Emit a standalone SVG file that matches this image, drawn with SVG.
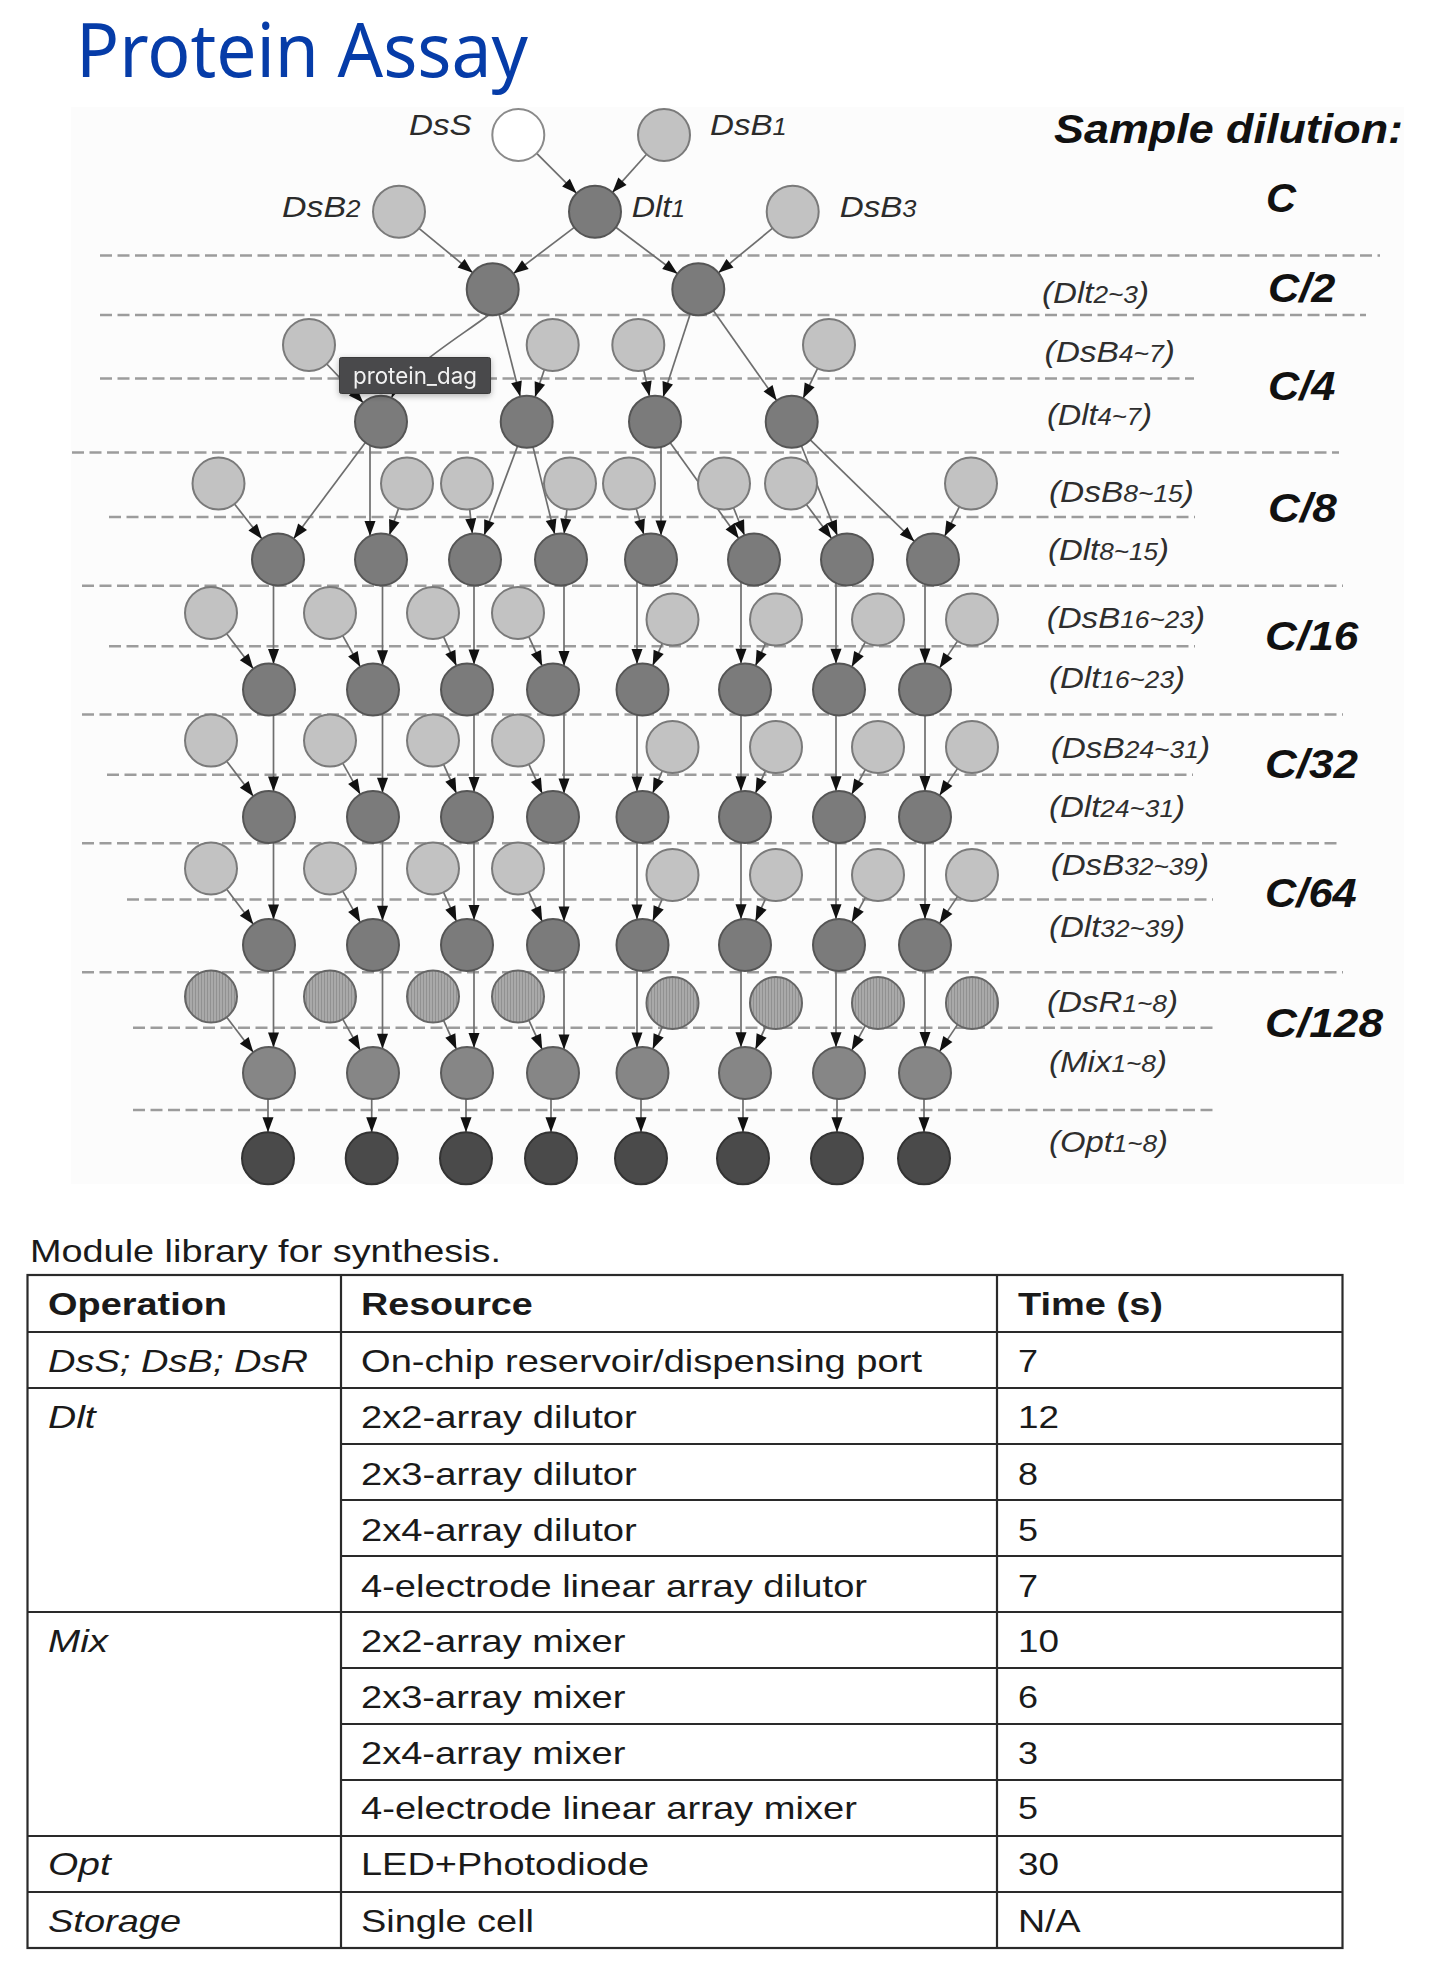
<svg xmlns="http://www.w3.org/2000/svg" width="1430" height="1966" viewBox="0 0 1430 1966">
<style>
.dash{stroke:#9c9c9c;stroke-width:2.6;stroke-dasharray:12 5.5;fill:none}
.e{stroke:#6e6e6e;stroke-width:1.7;fill:none;marker-end:url(#ah)}
.nw{fill:#ffffff;stroke:#8a8a8a;stroke-width:2}
.nl{fill:#c2c2c2;stroke:#7a7a7a;stroke-width:2}
.nd{fill:#7b7b7b;stroke:#555555;stroke-width:2}
.nm{fill:#868686;stroke:#5a5a5a;stroke-width:2}
.nr{fill:url(#hatch);stroke:#666666;stroke-width:2}
.no{fill:#4a4a4a;stroke:#333333;stroke-width:2}
.lbl{font-family:"Liberation Sans",Arial,sans-serif;font-style:italic;fill:#2b2b2b;font-size:30px}
.rl{font-family:"Liberation Sans",Arial,sans-serif;font-style:italic;fill:#2e2e2e;font-size:29px}
.sub{font-size:23px}
.cl{font-family:"Liberation Sans",Arial,sans-serif;font-style:italic;font-weight:bold;fill:#111111;font-size:41px}
.tb{font-family:"Liberation Sans",Arial,sans-serif;font-size:32px;fill:#1a1a1a}
.th{font-weight:bold}
.ti{font-style:italic}
.tl{stroke:#2a2a2a;stroke-width:2.2}
</style>
<defs>
<marker id="ah" markerUnits="userSpaceOnUse" viewBox="-16 -6 17 12" refX="0" refY="0" markerWidth="17" markerHeight="12" orient="auto">
<path d="M0,0 L-15,-5.5 L-15,5.5 Z" fill="#111111"/>
</marker>
<pattern id="hatch" patternUnits="userSpaceOnUse" width="3" height="3">
<rect width="3" height="3" fill="#a9a9a9"/>
<rect width="1" height="3" fill="#919191"/>
</pattern>
<filter id="shadow" x="-20%" y="-40%" width="140%" height="190%">
<feDropShadow dx="0" dy="2" stdDeviation="3" flood-color="#000" flood-opacity="0.3"/>
</filter>
</defs>

<rect width="1430" height="1966" fill="#ffffff"/>
<text x="76" y="77" font-family="'Noto Sans','Open Sans',sans-serif" font-size="74" fill="#063ca8" textLength="452" lengthAdjust="spacingAndGlyphs">Protein Assay</text>

<rect x="71" y="107" width="1333" height="1077" fill="#fcfcfc"/>

<g id="dashed-lines">
<line class="dash" x1="100" y1="255.5" x2="1380" y2="255.5"/>
<line class="dash" x1="100" y1="315" x2="1366" y2="315"/>
<line class="dash" x1="100" y1="378.5" x2="1194" y2="378.5"/>
<line class="dash" x1="72" y1="452.5" x2="1339" y2="452.5"/>
<line class="dash" x1="109" y1="517" x2="1195" y2="517"/>
<line class="dash" x1="82" y1="585.8" x2="1343" y2="585.8"/>
<line class="dash" x1="109" y1="646.3" x2="1195" y2="646.3"/>
<line class="dash" x1="82" y1="714.5" x2="1343" y2="714.5"/>
<line class="dash" x1="107" y1="774.8" x2="1193" y2="774.8"/>
<line class="dash" x1="82" y1="843.3" x2="1342" y2="843.3"/>
<line class="dash" x1="127" y1="899.5" x2="1213" y2="899.5"/>
<line class="dash" x1="82" y1="972.3" x2="1343" y2="972.3"/>
<line class="dash" x1="133" y1="1027.7" x2="1218" y2="1027.7"/>
<line class="dash" x1="133" y1="1110" x2="1218" y2="1110"/>
</g>

<g id="connectors">
<path class="e" d="M536.7,153.4 L576.6,193.3"/>
<path class="e" d="M646.6,154.3 L612.4,192.4"/>
<path class="e" d="M419,228.3 L472.7,272.7"/>
<path class="e" d="M574.3,227.4 L513.4,273.6"/>
<path class="e" d="M615.8,227.3 L677.5,273.7"/>
<path class="e" d="M772.6,228.2 L718.4,272.8"/>
<path class="e" d="M488,315.5 C452,342 405,370 391.5,397.8"/>
<path class="e" d="M326.8,364 L363.2,402.7"/>
<path class="e" d="M499.2,314.5 L520.2,396.5"/>
<path class="e" d="M544.4,369.6 L535,397.1"/>
<path class="e" d="M643.8,370.4 L649.5,396.3"/>
<path class="e" d="M690.2,314 L663.1,397"/>
<path class="e" d="M713.3,310.5 L776.7,400.5"/>
<path class="e" d="M817.6,368.4 L803.1,398.3"/>

<path class="e" d="M365.4,442.5 L293.6,538.7"/>
<path class="e" d="M370,445.3 L370,535.9"/>
<path class="e" d="M234.5,504 L262,539"/>
<path class="e" d="M398.6,508.1 L389.4,534.9"/>
<path class="e" d="M517.6,446 L484.1,535.2"/>
<path class="e" d="M533,446.9 L554.7,534.3"/>
<path class="e" d="M469.7,509.4 L472.3,533.6"/>
<path class="e" d="M566.9,509.3 L564.1,533.7"/>
<path class="e" d="M661,447 L661,535.5"/>
<path class="e" d="M670.2,442.8 L738.8,538.4"/>
<path class="e" d="M636.2,508.5 L643.8,534.5"/>
<path class="e" d="M733.5,507.7 L744.5,535.3"/>
<path class="e" d="M801.4,445.8 L837.3,535.4"/>
<path class="e" d="M810.3,439.8 L914.4,541.4"/>
<path class="e" d="M806.4,504.4 L831.6,538.6"/>
<path class="e" d="M959.4,506.7 L944.6,536.3"/>

<path class="e" d="M273.5,585.1 L273.5,663.9"/>
<path class="e" d="M382.5,585.5 L382.5,665.3"/>
<path class="e" d="M474,585.5 L474,664.5"/>
<path class="e" d="M564,585.3 L564,665.9"/>
<path class="e" d="M637,581.4 L637,664.1"/>
<path class="e" d="M741,582 L741,663.8"/>
<path class="e" d="M836,583.1 L836,663.7"/>
<path class="e" d="M925,584.2 L925,663.5"/>
<path class="e" d="M226.7,633.7 L253.3,668.8"/>
<path class="e" d="M342.7,635.7 L360.3,666.8"/>
<path class="e" d="M443.6,636.8 L456.4,665.7"/>
<path class="e" d="M528.8,636.6 L542.2,665.9"/>
<path class="e" d="M662.3,643.4 L652.7,665.6"/>
<path class="e" d="M765.5,643.3 L755.5,665.7"/>
<path class="e" d="M865.3,642.2 L851.7,666.8"/>
<path class="e" d="M957.5,641.1 L939.5,667.9"/>

<path class="e" d="M273.5,715.1 L273.5,791.4"/>
<path class="e" d="M382.5,713.7 L382.5,792.8"/>
<path class="e" d="M474,714.5 L474,792"/>
<path class="e" d="M564,713.1 L564,793.4"/>
<path class="e" d="M637,714.9 L637,791.6"/>
<path class="e" d="M741,715.2 L741,791.3"/>
<path class="e" d="M836,715.3 L836,791.2"/>
<path class="e" d="M925,715.5 L925,791"/>
<path class="e" d="M226.7,761.2 L253.3,796.3"/>
<path class="e" d="M342.7,763.2 L360.3,794.3"/>
<path class="e" d="M443.6,764.3 L456.4,793.2"/>
<path class="e" d="M528.8,764.1 L542.2,793.4"/>
<path class="e" d="M662.3,770.9 L652.7,793.1"/>
<path class="e" d="M765.5,770.8 L755.5,793.2"/>
<path class="e" d="M865.3,769.7 L851.7,794.3"/>
<path class="e" d="M957.5,768.6 L939.5,795.4"/>

<path class="e" d="M273.5,842.6 L273.5,919.4"/>
<path class="e" d="M382.5,841.2 L382.5,920.8"/>
<path class="e" d="M474,842 L474,920"/>
<path class="e" d="M564,840.6 L564,921.4"/>
<path class="e" d="M637,842.4 L637,919.6"/>
<path class="e" d="M741,842.7 L741,919.3"/>
<path class="e" d="M836,842.8 L836,919.2"/>
<path class="e" d="M925,843 L925,919"/>
<path class="e" d="M226.7,889.2 L253.3,924.3"/>
<path class="e" d="M342.7,891.2 L360.3,922.3"/>
<path class="e" d="M443.6,892.3 L456.4,921.2"/>
<path class="e" d="M528.8,892.1 L542.2,921.4"/>
<path class="e" d="M662.3,898.9 L652.7,921.1"/>
<path class="e" d="M765.5,898.8 L755.5,921.2"/>
<path class="e" d="M865.3,897.7 L851.7,922.3"/>
<path class="e" d="M957.5,896.6 L939.5,923.4"/>

<path class="e" d="M273.5,970.6 L273.5,1047.4"/>
<path class="e" d="M382.5,969.2 L382.5,1048.8"/>
<path class="e" d="M474,970 L474,1048"/>
<path class="e" d="M564,968.6 L564,1049.4"/>
<path class="e" d="M637,970.4 L637,1047.6"/>
<path class="e" d="M741,970.7 L741,1047.3"/>
<path class="e" d="M836,970.8 L836,1047.2"/>
<path class="e" d="M925,971 L925,1047"/>
<path class="e" d="M226.7,1017.2 L253.3,1052.3"/>
<path class="e" d="M342.7,1019.2 L360.3,1050.3"/>
<path class="e" d="M443.6,1020.3 L456.4,1049.2"/>
<path class="e" d="M528.8,1020.1 L542.2,1049.4"/>
<path class="e" d="M662.3,1026.9 L652.7,1049.1"/>
<path class="e" d="M765.5,1026.8 L755.5,1049.2"/>
<path class="e" d="M865.3,1025.7 L851.7,1050.3"/>
<path class="e" d="M957.5,1024.6 L939.5,1051.4"/>

<path class="e" d="M268,1099 L268,1132.3"/>
<path class="e" d="M371.7,1099 L371.7,1132.3"/>
<path class="e" d="M466,1099 L466,1132.3"/>
<path class="e" d="M551,1099 L551,1132.3"/>
<path class="e" d="M641,1099 L641,1132.3"/>
<path class="e" d="M743,1099 L743,1132.3"/>
<path class="e" d="M837,1099 L837,1132.3"/>
<path class="e" d="M924,1099 L924,1132.3"/>
</g>

<g id="nodes">
<g id="DsS"><circle class="nw" cx="518.3" cy="135" r="26"/><text class="lbl" x="409" y="135" textLength="62.7" lengthAdjust="spacingAndGlyphs">DsS</text></g>
<g id="DsB1"><circle class="nl" cx="664" cy="135" r="26"/><text class="lbl" x="710" y="135" textLength="76.7" lengthAdjust="spacingAndGlyphs">DsB<tspan class="sub">1</tspan></text></g>
<g id="DsB2"><circle class="nl" cx="399" cy="211.7" r="26"/><text class="lbl" x="282" y="216.7" textLength="78.6" lengthAdjust="spacingAndGlyphs">DsB<tspan class="sub">2</tspan></text></g>
<g id="Dlt1"><circle class="nd" cx="595" cy="211.7" r="26"/><text class="lbl" x="631.7" y="216.7" textLength="53.3" lengthAdjust="spacingAndGlyphs">Dlt<tspan class="sub">1</tspan></text></g>
<g id="DsB3"><circle class="nl" cx="792.7" cy="211.7" r="26"/><text class="lbl" x="839.7" y="216.7" textLength="76.8" lengthAdjust="spacingAndGlyphs">DsB<tspan class="sub">3</tspan></text></g>
<g id="Dlt2"><circle class="nd" cx="492.7" cy="289.3" r="26"/></g>
<g id="Dlt3"><circle class="nd" cx="698.3" cy="289.3" r="26"/></g>
<g id="DsB4"><circle class="nl" cx="309" cy="345" r="26"/></g>
<g id="DsB5"><circle class="nl" cx="552.7" cy="345" r="26"/></g>
<g id="DsB6"><circle class="nl" cx="638.3" cy="345" r="26"/></g>
<g id="DsB7"><circle class="nl" cx="829" cy="345" r="26"/></g>
<g id="Dlt4"><circle class="nd" cx="381" cy="421.7" r="26"/></g>
<g id="Dlt5"><circle class="nd" cx="526.7" cy="421.7" r="26"/></g>
<g id="Dlt6"><circle class="nd" cx="655" cy="421.7" r="26"/></g>
<g id="Dlt7"><circle class="nd" cx="791.7" cy="421.7" r="26"/></g>

<g id="DsB8"><circle class="nl" cx="218.5" cy="483.5" r="26"/></g>
<g id="DsB9"><circle class="nl" cx="407" cy="483.5" r="26"/></g>
<g id="DsB10"><circle class="nl" cx="467" cy="483.5" r="26"/></g>
<g id="DsB11"><circle class="nl" cx="570" cy="483.5" r="26"/></g>
<g id="DsB12"><circle class="nl" cx="629" cy="483.5" r="26"/></g>
<g id="DsB13"><circle class="nl" cx="724" cy="483.5" r="26"/></g>
<g id="DsB14"><circle class="nl" cx="791" cy="483.5" r="26"/></g>
<g id="DsB15"><circle class="nl" cx="971" cy="483.5" r="26"/></g>

<g id="Dlt8"><circle class="nd" cx="278" cy="559.5" r="26"/></g>
<g id="Dlt9"><circle class="nd" cx="381" cy="559.5" r="26"/></g>
<g id="Dlt10"><circle class="nd" cx="475" cy="559.5" r="26"/></g>
<g id="Dlt11"><circle class="nd" cx="561" cy="559.5" r="26"/></g>
<g id="Dlt12"><circle class="nd" cx="651" cy="559.5" r="26"/></g>
<g id="Dlt13"><circle class="nd" cx="754" cy="559.5" r="26"/></g>
<g id="Dlt14"><circle class="nd" cx="847" cy="559.5" r="26"/></g>
<g id="Dlt15"><circle class="nd" cx="933" cy="559.5" r="26"/></g>

<g id="DsB16"><circle class="nl" cx="211" cy="613" r="26"/></g>
<g id="DsB17"><circle class="nl" cx="330" cy="613" r="26"/></g>
<g id="DsB18"><circle class="nl" cx="433" cy="613" r="26"/></g>
<g id="DsB19"><circle class="nl" cx="518" cy="613" r="26"/></g>
<g id="DsB20"><circle class="nl" cx="672.5" cy="619.5" r="26"/></g>
<g id="DsB21"><circle class="nl" cx="776" cy="619.5" r="26"/></g>
<g id="DsB22"><circle class="nl" cx="878" cy="619.5" r="26"/></g>
<g id="DsB23"><circle class="nl" cx="972" cy="619.5" r="26"/></g>

<g id="Dlt16"><circle class="nd" cx="269" cy="689.5" r="26"/></g>
<g id="Dlt17"><circle class="nd" cx="373" cy="689.5" r="26"/></g>
<g id="Dlt18"><circle class="nd" cx="467" cy="689.5" r="26"/></g>
<g id="Dlt19"><circle class="nd" cx="553" cy="689.5" r="26"/></g>
<g id="Dlt20"><circle class="nd" cx="642.5" cy="689.5" r="26"/></g>
<g id="Dlt21"><circle class="nd" cx="745" cy="689.5" r="26"/></g>
<g id="Dlt22"><circle class="nd" cx="839" cy="689.5" r="26"/></g>
<g id="Dlt23"><circle class="nd" cx="925" cy="689.5" r="26"/></g>

<g id="DsB24"><circle class="nl" cx="211" cy="740.5" r="26"/></g>
<g id="DsB25"><circle class="nl" cx="330" cy="740.5" r="26"/></g>
<g id="DsB26"><circle class="nl" cx="433" cy="740.5" r="26"/></g>
<g id="DsB27"><circle class="nl" cx="518" cy="740.5" r="26"/></g>
<g id="DsB28"><circle class="nl" cx="672.5" cy="747" r="26"/></g>
<g id="DsB29"><circle class="nl" cx="776" cy="747" r="26"/></g>
<g id="DsB30"><circle class="nl" cx="878" cy="747" r="26"/></g>
<g id="DsB31"><circle class="nl" cx="972" cy="747" r="26"/></g>

<g id="Dlt24"><circle class="nd" cx="269" cy="817" r="26"/></g>
<g id="Dlt25"><circle class="nd" cx="373" cy="817" r="26"/></g>
<g id="Dlt26"><circle class="nd" cx="467" cy="817" r="26"/></g>
<g id="Dlt27"><circle class="nd" cx="553" cy="817" r="26"/></g>
<g id="Dlt28"><circle class="nd" cx="642.5" cy="817" r="26"/></g>
<g id="Dlt29"><circle class="nd" cx="745" cy="817" r="26"/></g>
<g id="Dlt30"><circle class="nd" cx="839" cy="817" r="26"/></g>
<g id="Dlt31"><circle class="nd" cx="925" cy="817" r="26"/></g>

<g id="DsB32"><circle class="nl" cx="211" cy="868.5" r="26"/></g>
<g id="DsB33"><circle class="nl" cx="330" cy="868.5" r="26"/></g>
<g id="DsB34"><circle class="nl" cx="433" cy="868.5" r="26"/></g>
<g id="DsB35"><circle class="nl" cx="518" cy="868.5" r="26"/></g>
<g id="DsB36"><circle class="nl" cx="672.5" cy="875" r="26"/></g>
<g id="DsB37"><circle class="nl" cx="776" cy="875" r="26"/></g>
<g id="DsB38"><circle class="nl" cx="878" cy="875" r="26"/></g>
<g id="DsB39"><circle class="nl" cx="972" cy="875" r="26"/></g>

<g id="Dlt32"><circle class="nd" cx="269" cy="945" r="26"/></g>
<g id="Dlt33"><circle class="nd" cx="373" cy="945" r="26"/></g>
<g id="Dlt34"><circle class="nd" cx="467" cy="945" r="26"/></g>
<g id="Dlt35"><circle class="nd" cx="553" cy="945" r="26"/></g>
<g id="Dlt36"><circle class="nd" cx="642.5" cy="945" r="26"/></g>
<g id="Dlt37"><circle class="nd" cx="745" cy="945" r="26"/></g>
<g id="Dlt38"><circle class="nd" cx="839" cy="945" r="26"/></g>
<g id="Dlt39"><circle class="nd" cx="925" cy="945" r="26"/></g>

<g id="DsR1"><circle class="nr" cx="211" cy="996.5" r="26"/></g>
<g id="DsR2"><circle class="nr" cx="330" cy="996.5" r="26"/></g>
<g id="DsR3"><circle class="nr" cx="433" cy="996.5" r="26"/></g>
<g id="DsR4"><circle class="nr" cx="518" cy="996.5" r="26"/></g>
<g id="DsR5"><circle class="nr" cx="672.5" cy="1003" r="26"/></g>
<g id="DsR6"><circle class="nr" cx="776" cy="1003" r="26"/></g>
<g id="DsR7"><circle class="nr" cx="878" cy="1003" r="26"/></g>
<g id="DsR8"><circle class="nr" cx="972" cy="1003" r="26"/></g>

<g id="Mix1"><circle class="nm" cx="269" cy="1073" r="26"/></g>
<g id="Mix2"><circle class="nm" cx="373" cy="1073" r="26"/></g>
<g id="Mix3"><circle class="nm" cx="467" cy="1073" r="26"/></g>
<g id="Mix4"><circle class="nm" cx="553" cy="1073" r="26"/></g>
<g id="Mix5"><circle class="nm" cx="642.5" cy="1073" r="26"/></g>
<g id="Mix6"><circle class="nm" cx="745" cy="1073" r="26"/></g>
<g id="Mix7"><circle class="nm" cx="839" cy="1073" r="26"/></g>
<g id="Mix8"><circle class="nm" cx="925" cy="1073" r="26"/></g>

<g id="Opt1"><circle class="no" cx="268" cy="1158.3" r="26"/></g>
<g id="Opt2"><circle class="no" cx="371.7" cy="1158.3" r="26"/></g>
<g id="Opt3"><circle class="no" cx="466" cy="1158.3" r="26"/></g>
<g id="Opt4"><circle class="no" cx="551" cy="1158.3" r="26"/></g>
<g id="Opt5"><circle class="no" cx="641" cy="1158.3" r="26"/></g>
<g id="Opt6"><circle class="no" cx="743" cy="1158.3" r="26"/></g>
<g id="Opt7"><circle class="no" cx="837" cy="1158.3" r="26"/></g>
<g id="Opt8"><circle class="no" cx="924" cy="1158.3" r="26"/></g>
</g>

<g id="row-labels">
<text class="rl" x="1042" y="303" textLength="107" lengthAdjust="spacingAndGlyphs">(Dlt<tspan class="sub">2~3</tspan>)</text>
<text class="rl" x="1044.5" y="362" textLength="130.5" lengthAdjust="spacingAndGlyphs">(DsB<tspan class="sub">4~7</tspan>)</text>
<text class="rl" x="1047" y="425" textLength="105" lengthAdjust="spacingAndGlyphs">(Dlt<tspan class="sub">4~7</tspan>)</text>
<text class="rl" x="1049" y="501.7" textLength="145" lengthAdjust="spacingAndGlyphs">(DsB<tspan class="sub">8~15</tspan>)</text>
<text class="rl" x="1048" y="560" textLength="121" lengthAdjust="spacingAndGlyphs">(Dlt<tspan class="sub">8~15</tspan>)</text>
<text class="rl" x="1046.7" y="628" textLength="158.3" lengthAdjust="spacingAndGlyphs">(DsB<tspan class="sub">16~23</tspan>)</text>
<text class="rl" x="1049" y="688" textLength="136" lengthAdjust="spacingAndGlyphs">(Dlt<tspan class="sub">16~23</tspan>)</text>
<text class="rl" x="1050.7" y="758" textLength="159.3" lengthAdjust="spacingAndGlyphs">(DsB<tspan class="sub">24~31</tspan>)</text>
<text class="rl" x="1049" y="816.7" textLength="136" lengthAdjust="spacingAndGlyphs">(Dlt<tspan class="sub">24~31</tspan>)</text>
<text class="rl" x="1050.7" y="875" textLength="158.3" lengthAdjust="spacingAndGlyphs">(DsB<tspan class="sub">32~39</tspan>)</text>
<text class="rl" x="1049" y="936.7" textLength="136" lengthAdjust="spacingAndGlyphs">(Dlt<tspan class="sub">32~39</tspan>)</text>
<text class="rl" x="1047" y="1011.7" textLength="131" lengthAdjust="spacingAndGlyphs">(DsR<tspan class="sub">1~8</tspan>)</text>
<text class="rl" x="1049" y="1071.7" textLength="118" lengthAdjust="spacingAndGlyphs">(Mix<tspan class="sub">1~8</tspan>)</text>
<text class="rl" x="1049" y="1152" textLength="119" lengthAdjust="spacingAndGlyphs">(Opt<tspan class="sub">1~8</tspan>)</text>
</g>

<g id="dilution-labels">
<text class="cl" x="1054" y="143" font-size="44" textLength="349" lengthAdjust="spacingAndGlyphs">Sample dilution:</text>
<text class="cl" x="1266" y="212" textLength="30" lengthAdjust="spacingAndGlyphs">C</text>
<text class="cl" x="1268" y="302" textLength="67.5" lengthAdjust="spacingAndGlyphs">C/2</text>
<text class="cl" x="1268" y="400" textLength="67.5" lengthAdjust="spacingAndGlyphs">C/4</text>
<text class="cl" x="1268" y="521.7" textLength="68.7" lengthAdjust="spacingAndGlyphs">C/8</text>
<text class="cl" x="1265" y="650" textLength="93.3" lengthAdjust="spacingAndGlyphs">C/16</text>
<text class="cl" x="1265" y="778.3" textLength="93" lengthAdjust="spacingAndGlyphs">C/32</text>
<text class="cl" x="1265" y="906.7" textLength="91.7" lengthAdjust="spacingAndGlyphs">C/64</text>
<text class="cl" x="1265" y="1036.7" textLength="118" lengthAdjust="spacingAndGlyphs">C/128</text>
</g>

<g id="tooltip" filter="url(#shadow)">
<rect x="339.5" y="357.5" width="151" height="36" rx="2" fill="#49494b" stroke="#3a3a3a" stroke-width="1"/>
<text x="353" y="384" font-family="Inter,'Liberation Sans',sans-serif" font-size="23" fill="#f2f2f2" textLength="124" lengthAdjust="spacingAndGlyphs">protein_dag</text>
</g>

<g id="table">
<text class="tb" x="30" y="1261.7" font-size="31" textLength="471" lengthAdjust="spacingAndGlyphs">Module library for synthesis.</text>
<rect x="27.5" y="1275" width="1315" height="673" fill="#ffffff" class="tl"/>
<line class="tl" x1="341" y1="1275" x2="341" y2="1948"/>
<line class="tl" x1="997" y1="1275" x2="997" y2="1948"/>
<line class="tl" x1="27.5" y1="1332" x2="1342.5" y2="1332"/>
<line class="tl" x1="27.5" y1="1388" x2="1342.5" y2="1388"/>
<line class="tl" x1="341" y1="1444" x2="1342.5" y2="1444"/>
<line class="tl" x1="341" y1="1500" x2="1342.5" y2="1500"/>
<line class="tl" x1="341" y1="1556" x2="1342.5" y2="1556"/>
<line class="tl" x1="27.5" y1="1612" x2="1342.5" y2="1612"/>
<line class="tl" x1="341" y1="1668" x2="1342.5" y2="1668"/>
<line class="tl" x1="341" y1="1724" x2="1342.5" y2="1724"/>
<line class="tl" x1="341" y1="1780" x2="1342.5" y2="1780"/>
<line class="tl" x1="27.5" y1="1836" x2="1342.5" y2="1836"/>
<line class="tl" x1="27.5" y1="1892" x2="1342.5" y2="1892"/>

<text class="tb th" x="48" y="1315" textLength="179" lengthAdjust="spacingAndGlyphs">Operation</text>
<text class="tb th" x="361" y="1315" textLength="171.7" lengthAdjust="spacingAndGlyphs">Resource</text>
<text class="tb th" x="1018" y="1315" textLength="145" lengthAdjust="spacingAndGlyphs">Time (s)</text>

<text class="tb ti" x="48" y="1371.7" textLength="260" lengthAdjust="spacingAndGlyphs">DsS; DsB; DsR</text>
<text class="tb" x="361" y="1371.7" textLength="561" lengthAdjust="spacingAndGlyphs">On-chip reservoir/dispensing port</text>
<text class="tb" x="1018" y="1371.7" textLength="20" lengthAdjust="spacingAndGlyphs">7</text>

<text class="tb ti" x="48" y="1428.3" textLength="47.7" lengthAdjust="spacingAndGlyphs">Dlt</text>
<text class="tb" x="361" y="1428.3" textLength="275.7" lengthAdjust="spacingAndGlyphs">2x2-array dilutor</text>
<text class="tb" x="1018" y="1428.3" textLength="41" lengthAdjust="spacingAndGlyphs">12</text>
<text class="tb" x="361" y="1485" textLength="275.7" lengthAdjust="spacingAndGlyphs">2x3-array dilutor</text>
<text class="tb" x="1018" y="1485" textLength="20" lengthAdjust="spacingAndGlyphs">8</text>
<text class="tb" x="361" y="1540.7" textLength="275.7" lengthAdjust="spacingAndGlyphs">2x4-array dilutor</text>
<text class="tb" x="1018" y="1540.7" textLength="20" lengthAdjust="spacingAndGlyphs">5</text>
<text class="tb" x="361" y="1596.5" textLength="506" lengthAdjust="spacingAndGlyphs">4-electrode linear array dilutor</text>
<text class="tb" x="1018" y="1596.5" textLength="20" lengthAdjust="spacingAndGlyphs">7</text>

<text class="tb ti" x="48" y="1651.7" textLength="60" lengthAdjust="spacingAndGlyphs">Mix</text>
<text class="tb" x="361" y="1651.7" textLength="264.4" lengthAdjust="spacingAndGlyphs">2x2-array mixer</text>
<text class="tb" x="1018" y="1651.7" textLength="41" lengthAdjust="spacingAndGlyphs">10</text>
<text class="tb" x="361" y="1707.7" textLength="264.4" lengthAdjust="spacingAndGlyphs">2x3-array mixer</text>
<text class="tb" x="1018" y="1707.7" textLength="20" lengthAdjust="spacingAndGlyphs">6</text>
<text class="tb" x="361" y="1764" textLength="264.4" lengthAdjust="spacingAndGlyphs">2x4-array mixer</text>
<text class="tb" x="1018" y="1764" textLength="20" lengthAdjust="spacingAndGlyphs">3</text>
<text class="tb" x="361" y="1819.3" textLength="496" lengthAdjust="spacingAndGlyphs">4-electrode linear array mixer</text>
<text class="tb" x="1018" y="1819.3" textLength="20" lengthAdjust="spacingAndGlyphs">5</text>

<text class="tb ti" x="48" y="1875" textLength="62.7" lengthAdjust="spacingAndGlyphs">Opt</text>
<text class="tb" x="361" y="1875" textLength="288" lengthAdjust="spacingAndGlyphs">LED+Photodiode</text>
<text class="tb" x="1018" y="1875" textLength="41" lengthAdjust="spacingAndGlyphs">30</text>

<text class="tb ti" x="48" y="1931.7" textLength="133" lengthAdjust="spacingAndGlyphs">Storage</text>
<text class="tb" x="361" y="1931.7" textLength="173" lengthAdjust="spacingAndGlyphs">Single cell</text>
<text class="tb" x="1018" y="1931.7" textLength="62.6" lengthAdjust="spacingAndGlyphs">N/A</text>
</g>
</svg>
